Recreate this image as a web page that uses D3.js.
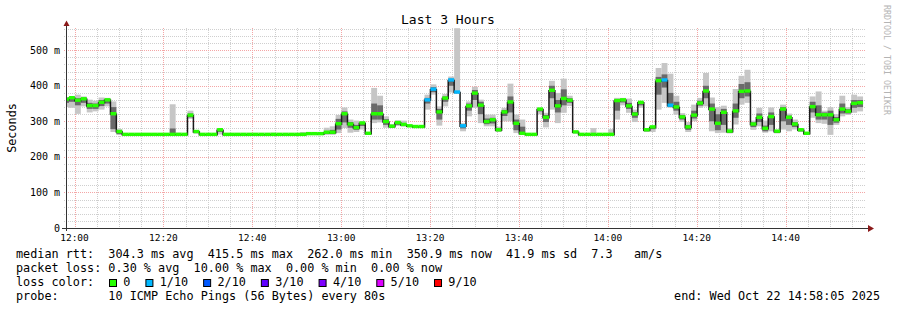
<!DOCTYPE html>
<html>
<head>
<meta charset="utf-8">
<script src="https://cdn.jsdelivr.net/npm/d3@7/dist/d3.min.js"></script>
<style>
  body { margin: 0; background: #fff; }
  text { font-family: "DejaVu Sans Mono", monospace; white-space: pre; }
</style>
</head>
<body>
<div id="vis"></div>
<script>
// one sample every 80 s, sample 0 centred on the graph start
var stepSec = 80
var start = new Date(2025, 9, 22, 11, 58, 5)
var end = new Date(2025, 9, 22, 14, 58, 5)

// median rtt per sample (ms)
var median = [361,365,358,362,343,343,352,359,320,270,
  262,262,262,262,262,262,262,262,262,262,
  262,316,270,262,262,262,275,262,262,262,
  262,262,262,262,262,262,262,262,262,262,
  262,264,264,264,268,268,292,320,291,281,
  294,265,320,320,298,285,295,290,286,284,
  284,359,389,325,364,415,381,286,342,378,
  344,298,303,275,325,353,293,265,262,262,
  333,310,386,342,363,358,269,262,262,262,
  262,262,262,357,359,342,319,352,275,283,
  413,415,344,339,311,283,316,350,384,333,
  293,324,271,328,383,384,291,310,279,312,
  271,333,310,291,275,265,340,317,317,317,
  303,333,327,349,351]
// lowest / highest ping of the 10
var pingLo = [340,338,321,342,325,328,333,342,270,262,
  262,262,262,262,262,262,262,262,262,262,
  262,307,265,262,262,262,263,262,262,262,
  262,262,262,262,262,262,262,262,262,262,
  262,262,262,262,262,262,267,281,268,270,
  277,262,295,297,282,281,287,285,284,283,
  283,333,375,288,342,381,380,272,314,338,
  295,286,286,270,300,300,267,262,262,262,
  320,283,333,295,324,343,265,262,262,262,
  262,262,262,305,345,324,298,338,270,270,
  333,352,338,319,298,270,300,338,342,272,
  267,268,266,291,347,352,276,286,268,272,
  266,277,272,277,270,262,310,295,293,262,
  290,314,318,324,328]
var pingHi = [368,370,375,370,361,358,367,366,356,278,
  262,262,262,262,262,262,262,262,348,268,
  262,330,272,262,262,262,278,262,262,262,
  262,262,262,262,262,268,262,262,262,262,
  270,266,265,266,282,286,318,339,305,302,
  301,268,394,372,314,292,303,302,290,286,
  286,375,404,342,377,426,562,295,356,397,
  361,319,319,285,338,406,319,305,262,262,
  338,324,414,380,420,372,272,262,262,281,
  262,262,278,366,366,364,333,357,279,287,
  450,464,434,372,323,298,347,366,436,367,
  340,344,281,391,428,445,302,338,302,339,
  275,347,322,305,281,270,370,384,330,340,
  320,372,340,375,370]
// inner (dense) part of the smoke
var innerLo = [352,355,345,352,335,335,343,350,278,264,
  262,262,262,262,262,262,262,262,262,262,
  262,311,268,262,262,262,270,262,262,262,
  262,262,262,262,262,262,262,262,262,262,
  262,263,263,263,265,265,277,297,282,276,
  287,263,305,305,290,283,290,287,285,283,
  283,350,382,305,355,400,381,280,330,360,
  320,292,294,272,315,325,275,263,262,262,
  328,298,365,325,345,352,267,262,262,262,
  262,262,262,330,353,335,310,345,272,278,
  375,395,342,330,305,276,308,344,365,300,
  275,290,268,310,365,370,284,298,272,290,
  268,300,290,284,272,263,325,305,305,290,
  296,322,322,338,340]
var innerHi = [364,366,365,366,352,350,360,363,340,272,
  262,262,262,262,262,262,262,262,280,263,
  262,322,271,262,262,262,277,262,262,262,
  262,262,262,262,262,262,262,262,262,262,
  264,265,265,265,272,276,307,328,298,290,
  298,267,350,345,306,288,299,294,288,285,
  285,366,396,335,370,420,383,290,350,388,
  355,308,310,280,332,370,305,285,262,262,
  336,318,400,360,390,365,271,262,262,264,
  262,262,264,362,363,352,326,355,277,285,
  425,432,380,355,318,290,330,358,400,350,
  320,335,275,350,405,410,297,322,288,325,
  273,340,316,298,278,267,355,345,325,330,
  312,350,334,360,360]
// pings lost out of 10
var loss = [0,0,0,0,0,0,0,0,0,0, 0,0,0,0,0,0,0,0,0,0,
  0,0,0,0,0,0,0,0,0,0, 0,0,0,0,0,0,0,0,0,0,
  0,0,0,0,0,0,0,0,0,0, 0,0,0,0,0,0,0,0,0,0,
  0,1,1,0,0,1,1,1,0,0, 0,0,0,0,0,0,0,0,0,0,
  0,0,0,0,0,0,0,0,0,0, 0,0,0,0,0,0,0,0,0,0,
  0,1,1,0,0,0,0,0,0,0, 0,0,0,0,0,0,0,0,0,0,
  0,0,0,0,0,0,0,0,0,0, 0,0,0,0,0]

var yTicks = [0, 100, 200, 300, 400, 500]
var yTickLabels = ["0", "100 m", "200 m", "300 m", "400 m", "500 m"]
var lossLevels = ["0", "1/10", "2/10", "3/10", "4/10", "5/10", "9/10"]
var lossColors = ["#26ff00", "#00b8ff", "#0059ff", "#5e00ff", "#7e00ff", "#dd00ff", "#ff0000"]
var legendLines = [
  "median rtt:  304.3 ms avg  415.5 ms max  262.0 ms min  350.9 ms now  41.9 ms sd  7.3   am/s",
  "packet loss: 0.30 % avg  10.00 % max  0.00 % min  0.00 % now",
  "loss color:",
  "probe:       10 ICMP Echo Pings (56 Bytes) every 80s"
]

var width = 897, height = 310
var gLeft = 66, gRight = 866, gTop = 28, gBottom = 228

var x = d3.scaleTime().domain([start, end]).range([gLeft, gRight])
var y = d3.scaleLinear().domain([0, 562.5]).range([gBottom, gTop])

var svg = d3.select("#vis").append("svg")
  .attr("width", width).attr("height", height)

// grid
var minorX = x.ticks(d3.timeMinute.every(5))
svg.append("g").selectAll("line").data(minorX).enter().append("line")
  .attr("x1", d => Math.round(x(d)) + 0.5).attr("x2", d => Math.round(x(d)) + 0.5)
  .attr("y1", gTop).attr("y2", gBottom)
  .style("stroke", d => d.getMinutes() % 20 == 0 ? "#f4a6a6" : "#cfcfcf")
  .style("stroke-dasharray", "1,1")

var gridY = y.ticks(28).filter(v => v > 0)
svg.append("g").selectAll("line").data(gridY).enter().append("line")
  .attr("x1", gLeft - 2).attr("x2", gRight)
  .attr("y1", d => Math.round(y(d)) + 0.5).attr("y2", d => Math.round(y(d)) + 0.5)
  .style("stroke", d => d % 100 == 0 ? "#f4a6a6" : "#cfcfcf")
  .style("stroke-dasharray", "1,1")

// sample extents
var samples = median.map((m, i) => {
  var tc = +start + i * stepSec * 1000
  return {
    x0: Math.max(gLeft, x(new Date(tc - stepSec * 500))),
    x1: Math.min(gRight, x(new Date(tc + stepSec * 500))),
    med: m, lo: pingLo[i], hi: pingHi[i], ilo: innerLo[i], ihi: innerHi[i], loss: loss[i]
  }
})

var plot = svg.append("g")

// smoke
plot.selectAll(".smoke").data(samples.filter(d => d.hi > d.lo)).enter().append("rect")
  .attr("x", d => d.x0).attr("width", d => d.x1 - d.x0)
  .attr("y", d => Math.max(gTop, y(d.hi))).attr("height", d => y(d.lo) - Math.max(gTop, y(d.hi)))
  .style("fill", "#c6c6c6")
plot.selectAll(".inner").data(samples.filter(d => d.ihi > d.ilo)).enter().append("rect")
  .attr("x", d => d.x0).attr("width", d => d.x1 - d.x0)
  .attr("y", d => y(d.ihi)).attr("height", d => y(d.ilo) - y(d.ihi))
  .style("fill", "#6a6a6a")

// median step line
var pts = samples.map(d => [d.x0, y(d.med)])
pts.push([samples[samples.length - 1].x1, y(samples[samples.length - 1].med)])
plot.append("path")
  .attr("d", d3.line().curve(d3.curveStepAfter)(pts))
  .style("fill", "none").style("stroke", "#1a1a1a").style("stroke-width", 1.5)

// median colored by loss
plot.selectAll(".med").data(samples).enter().append("rect")
  .attr("x", d => d.x0).attr("width", d => d.x1 - d.x0)
  .attr("y", d => y(d.med) - 2.2).attr("height", 3.4)
  .style("fill", d => lossColors[d.loss])

// axes
svg.append("line").attr("x1", gLeft + 0.5).attr("x2", gLeft + 0.5).attr("y1", gBottom + 3).attr("y2", 25)
  .style("stroke", "#333")
svg.append("line").attr("x1", gLeft - 4).attr("x2", gRight + 3).attr("y1", gBottom + 0.5).attr("y2", gBottom + 0.5)
  .style("stroke", "#333")
svg.append("path").attr("d", "M63.5,26L66.5,20.5L69.5,26Z").style("fill", "#8b1a1a")
svg.append("path").attr("d", "M868,225L874,228.5L868,232Z").style("fill", "#8b1a1a")

svg.append("g").selectAll("text").data(yTicks).enter().append("text")
  .attr("x", 60).attr("y", d => y(d)).attr("dy", "0.35em")
  .attr("text-anchor", "end").style("font-size", "10px")
  .text((d, i) => yTickLabels[i])

svg.append("g").selectAll("text").data(x.ticks(d3.timeMinute.every(20))).enter().append("text")
  .attr("x", d => x(d)).attr("y", 241)
  .attr("text-anchor", "middle").style("font-size", "9.5px")
  .text(d3.timeFormat("%H:%M"))

// titles
svg.append("text").attr("x", 448).attr("y", 24).attr("text-anchor", "middle")
  .style("font-size", "13px").text("Last 3 Hours")
svg.append("text").attr("transform", "translate(15.5,128) rotate(-90)").attr("text-anchor", "middle")
  .style("font-size", "11.8px").text("Seconds")
svg.append("text").attr("transform", "translate(884,5) rotate(90)")
  .style("font-size", "8.3px").style("fill", "#b4b4b4").text("RRDTOOL / TOBI OETIKER")

// legend
svg.append("g").selectAll("text").data(legendLines).enter().append("text")
  .attr("x", 16).attr("y", (d, i) => 258 + i * 14.1)
  .style("font-size", "11.8px").text(d => d)

var lg = svg.append("g")
var bx = 109
lossLevels.forEach((lab, i) => {
  lg.append("rect").attr("x", bx + 0.5).attr("y", 279.5).attr("width", 7).attr("height", 7)
    .style("fill", lossColors[i]).style("stroke", "#000")
  var t = lg.append("text").attr("x", bx + 14.3).attr("y", 286.2)
    .style("font-size", "11.8px").text(lab)
  bx = bx + 14.3 + t.node().getComputedTextLength() + 15
})

svg.append("text").attr("x", 880).attr("y", 300.3).attr("text-anchor", "end")
  .style("font-size", "11.8px").text("end: Wed Oct 22 14:58:05 2025")
</script>
</body>
</html>
